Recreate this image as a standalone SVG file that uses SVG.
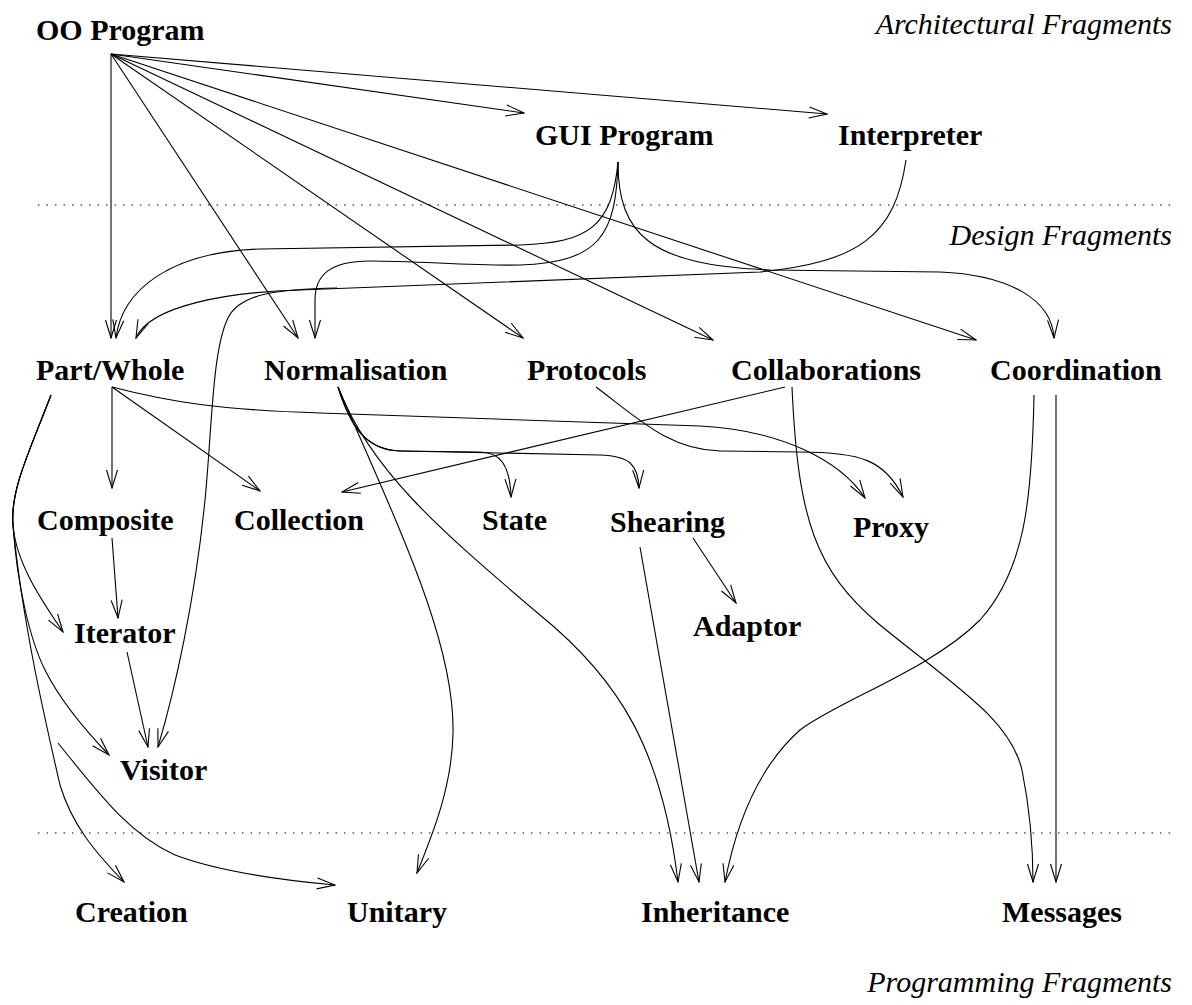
<svg xmlns="http://www.w3.org/2000/svg" width="1192" height="1005" viewBox="0 0 1192 1005">
  <defs>
    <style>
      .lbl { font-family: "Liberation Serif", "Times New Roman", serif; font-weight: bold; font-size: 30px; fill: #000; }
      .sec { font-family: "Liberation Serif", "Times New Roman", serif; font-style: italic; font-size: 30px; fill: #000; }
      .edge { fill: none; stroke: #000; stroke-width: 1.1; marker-end: url(#arr); }
      .sep { fill: none; stroke: #000; stroke-width: 1.2; stroke-dasharray: 1.5 7; }
    </style>
    <marker id="arr" viewBox="-19 -7 20 14" refX="0" refY="0" markerWidth="20" markerHeight="14" markerUnits="userSpaceOnUse" orient="auto">
      <path d="M-18,-5.5 L0,0 L-18,5.5" fill="none" stroke="#000" stroke-width="1.1"/>
    </marker>
  </defs>
  <rect width="1192" height="1005" fill="#fff"/>

  <!-- level separators and level captions -->
  <g id="levels">
    <line class="sep" x1="38" y1="205" x2="1172" y2="205"/>
    <line class="sep" x1="38" y1="833" x2="1172" y2="833"/>
    <text class="sec" x="1172" y="34" text-anchor="end">Architectural Fragments</text>
    <text class="sec" x="1172" y="245" text-anchor="end">Design Fragments</text>
    <text class="sec" x="1172" y="992" text-anchor="end">Programming Fragments</text>
  </g>

  <!-- connectors -->
  <g id="connectors">
    <!-- from OO Program -->
    <path class="edge" d="M111,54 L111,338"/>
    <path class="edge" d="M111,54 L298,338"/>
    <path class="edge" d="M111,54 L523,338"/>
    <path class="edge" d="M111,54 L713,340"/>
    <path class="edge" d="M111,54 L976,340"/>
    <path class="edge" d="M111,54 L524,113"/>
    <path class="edge" d="M111,54 L827,114"/>

    <!-- from GUI Program -->
    <path class="edge" d="M618,162 C612,225 590,243 520,245 L260,249 C170,252 122,290 116,338"/>
    <path class="edge" d="M618,162 C616,235 600,262 520,265 C470,266 420,261 370,261 C330,261 315,275 315,300 L315,338"/>
    <path class="edge" d="M618,162 C618,235 650,265 770,270 L940,272 C1010,275 1052,300 1054,338"/>

    <!-- from Interpreter -->
    <path class="edge" d="M906,160 C895,235 860,262 760,272 L300,290 C230,292 150,305 136,338"/>
    <path class="edge" d="M337,288 C280,289 240,293 228,318 C212,350 212,430 205,500 C195,600 175,690 158,747"/>

    <!-- from Part/Whole -->
    <path class="edge" d="M112,387 L112,488"/>
    <path class="edge" d="M112,387 L260,491"/>
    <path class="edge" d="M112,387 C170,402 220,410 320,413 L700,426 C780,430 840,460 865,498"/>
    <path class="edge" d="M51,395 C30,450 10,490 13,525 C16,565 45,605 63,632"/>
    <path class="edge" d="M51,395 C30,450 10,490 13,525 C17,585 30,640 45,670 C60,700 85,730 109,755"/>
    <path class="edge" d="M51,395 C30,450 10,490 13,525 C22,620 45,720 60,785 C72,825 95,852 124,882"/>
    <path class="edge" d="M58,743 C100,795 130,835 175,855 C220,872 280,880 335,885"/>

    <!-- from Normalisation -->
    <path class="edge" d="M338,387 C350,425 365,450 400,451 L480,452 C500,452 510,465 511,497"/>
    <path class="edge" d="M338,387 C350,425 365,450 400,451 L600,455 C630,456 638,465 639,488"/>
    <path class="edge" d="M338,387 C395,520 455,640 453,733 C452,790 430,840 417,873"/>
    <path class="edge" d="M338,387 C370,470 440,530 540,615 C620,680 662,750 678,882"/>

    <!-- from Protocols -->
    <path class="edge" d="M596,387 C640,420 670,450 720,451 L800,452 C860,452 885,460 903,497"/>

    <!-- from Collaborations -->
    <path class="edge" d="M785,387 L342,492"/>
    <path class="edge" d="M792,387 C798,520 815,570 880,625 C960,690 1010,720 1022,770 C1030,810 1033,850 1033,882"/>

    <!-- from Coordination -->
    <path class="edge" d="M1056,395 L1056,882"/>
    <path class="edge" d="M1034,395 C1032,500 1025,570 980,620 C930,670 840,700 800,730 C755,770 735,830 725,882"/>

    <!-- from Composite, Iterator, Shearing -->
    <path class="edge" d="M112,538 L118,618"/>
    <path class="edge" d="M127,652 L148,747"/>
    <path class="edge" d="M693,538 L736,603"/>
    <path class="edge" d="M640,547 L699,882"/>
  </g>

  <!-- nodes -->
  <g id="oo-program"><text class="lbl" x="36" y="40">OO Program</text></g>
  <g id="gui-program"><text class="lbl" x="535" y="145">GUI Program</text></g>
  <g id="interpreter"><text class="lbl" x="838" y="145">Interpreter</text></g>
  <g id="part-whole"><text class="lbl" x="36" y="380">Part/Whole</text></g>
  <g id="normalisation"><text class="lbl" x="264" y="380">Normalisation</text></g>
  <g id="protocols"><text class="lbl" x="527" y="380">Protocols</text></g>
  <g id="collaborations"><text class="lbl" x="731" y="380">Collaborations</text></g>
  <g id="coordination"><text class="lbl" x="990" y="380">Coordination</text></g>
  <g id="composite"><text class="lbl" x="37" y="530">Composite</text></g>
  <g id="collection"><text class="lbl" x="234" y="530">Collection</text></g>
  <g id="state"><text class="lbl" x="482" y="530">State</text></g>
  <g id="shearing"><text class="lbl" x="610" y="532">Shearing</text></g>
  <g id="proxy"><text class="lbl" x="853" y="537">Proxy</text></g>
  <g id="iterator"><text class="lbl" x="74" y="643">Iterator</text></g>
  <g id="adaptor"><text class="lbl" x="693" y="636">Adaptor</text></g>
  <g id="visitor"><text class="lbl" x="120" y="780">Visitor</text></g>
  <g id="creation"><text class="lbl" x="75" y="922">Creation</text></g>
  <g id="unitary"><text class="lbl" x="347" y="922">Unitary</text></g>
  <g id="inheritance"><text class="lbl" x="641" y="922">Inheritance</text></g>
  <g id="messages"><text class="lbl" x="1002" y="922">Messages</text></g>
</svg>
